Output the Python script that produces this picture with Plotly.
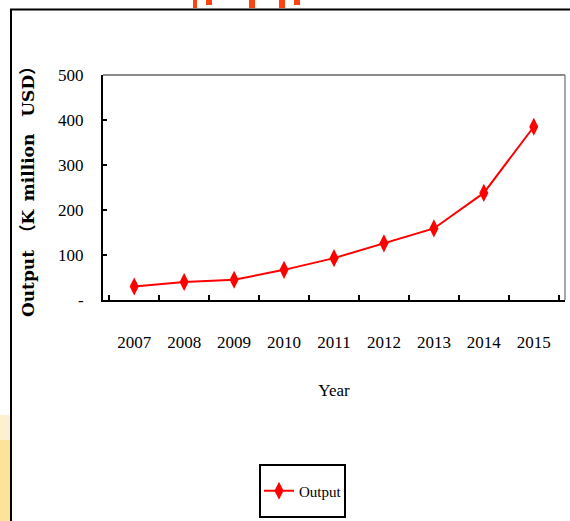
import plotly.graph_objects as go

years = ["2007", "2008", "2009", "2010", "2011", "2012", "2013", "2014", "2015"]
output = [30, 40, 45, 67, 93, 126, 159, 238, 385]
y_tickvals = [0, 100, 200, 300, 400, 500]
y_ticktext = ["-", "100", "200", "300", "400", "500"]

SERIF = "Liberation Serif, Times New Roman, serif"
L, R, T, B = 103, 5, 75, 221
W, H = 570, 521
PW, PH = W - L - R, H - T - B


def px_x(x):
    return (x - L) / PW


def px_y(y):
    return 1 - (y - T) / PH


fig = go.Figure()
fig.add_trace(go.Scatter(
    x=years, y=output, name="Output", mode="lines+markers",
    line=dict(color="#ff0000", width=2),
    marker=dict(symbol="diamond-tall", size=13, color="#ff0000"),
))

shapes = []
# yellow glow bottom-left (slide background)
shapes.append(dict(type="rect", xref="paper", yref="paper",
                   x0=px_x(0), x1=px_x(10), y0=px_y(521), y1=px_y(440),
                   line=dict(width=0), fillcolor="#fbe49a", layer="below"))
shapes.append(dict(type="rect", xref="paper", yref="paper",
                   x0=px_x(0), x1=px_x(10), y0=px_y(440), y1=px_y(415),
                   line=dict(width=0), fillcolor="#fdf0cc", layer="below"))
# orange title fragments peeking above (slide background)
for x0, x1, y1 in [(193, 197, 8), (206, 212, 5), (249, 255, 8), (279, 285, 8), (294, 300, 5)]:
    shapes.append(dict(type="rect", xref="paper", yref="paper",
                       x0=px_x(x0), x1=px_x(x1), y0=px_y(y1), y1=px_y(0),
                       line=dict(width=0), fillcolor="#ff4411", layer="below"))
# outer chart frame (left and top edges visible)
shapes.append(dict(type="line", xref="paper", yref="paper",
                   x0=px_x(11), x1=px_x(11), y0=px_y(530), y1=px_y(9),
                   line=dict(color="#000000", width=2)))
shapes.append(dict(type="line", xref="paper", yref="paper",
                   x0=px_x(10), x1=px_x(580), y0=px_y(9.5), y1=px_y(9.5),
                   line=dict(color="#000000", width=2)))
# plot frame top/right grey
shapes.append(dict(type="line", xref="paper", yref="paper", x0=0, x1=1, y0=1, y1=1,
                   line=dict(color="#8a8a8a", width=2)))
shapes.append(dict(type="line", xref="paper", yref="paper", x0=1, x1=1, y0=0, y1=1,
                   line=dict(color="#8a8a8a", width=1.5)))
# legend frame
shapes.append(dict(type="rect", xref="paper", yref="paper",
                   x0=px_x(260), x1=px_x(345), y0=px_y(517), y1=px_y(465),
                   line=dict(color="#000000", width=2), fillcolor="#ffffff", layer="below"))

fig.update_layout(
    width=W, height=H,
    margin=dict(l=L, r=R, t=T, b=B),
    paper_bgcolor="#ffffff", plot_bgcolor="#ffffff",
    font=dict(family=SERIF, size=17, color="#000000"),
    showlegend=True,
    legend=dict(x=px_x(259), y=px_y(491), xanchor="left", yanchor="middle",
                borderwidth=0, bgcolor="rgba(0,0,0,0)",
                font=dict(family=SERIF, size=15)),
    shapes=shapes,
    xaxis=dict(
        type="category", tickson="boundaries", ticks="inside", ticklen=5,
        tickcolor="#000000", tickwidth=1.5,
        showline=True, linecolor="#000000", linewidth=2,
        showgrid=False, zeroline=False,
        tickfont=dict(family=SERIF, size=17),
        ticklabelstandoff=26,
        title=dict(text="Year", font=dict(family=SERIF, size=17), standoff=33),
        automargin=False,
    ),
    yaxis=dict(
        range=[0, 500], tickvals=y_tickvals, ticktext=y_ticktext,
        ticks="inside", ticklen=4, tickcolor="#000000", tickwidth=1.5,
        showline=True, linecolor="#000000", linewidth=2,
        showgrid=False, zeroline=False,
        tickfont=dict(family=SERIF, size=17),
        ticklabelstandoff=14,
        title=dict(text="Output\u2002（K\u2002million\u2003USD）",
                   font=dict(family="DejaVu Serif, Noto Sans CJK SC, serif", size=17, weight="bold"),
                   standoff=19),
        automargin=False,
    ),
)

fig.write_html(
    "out.html",
    config={"displayModeBar": False},
    post_script="document.body.style.margin='0';document.body.style.overflow='hidden';",
)
